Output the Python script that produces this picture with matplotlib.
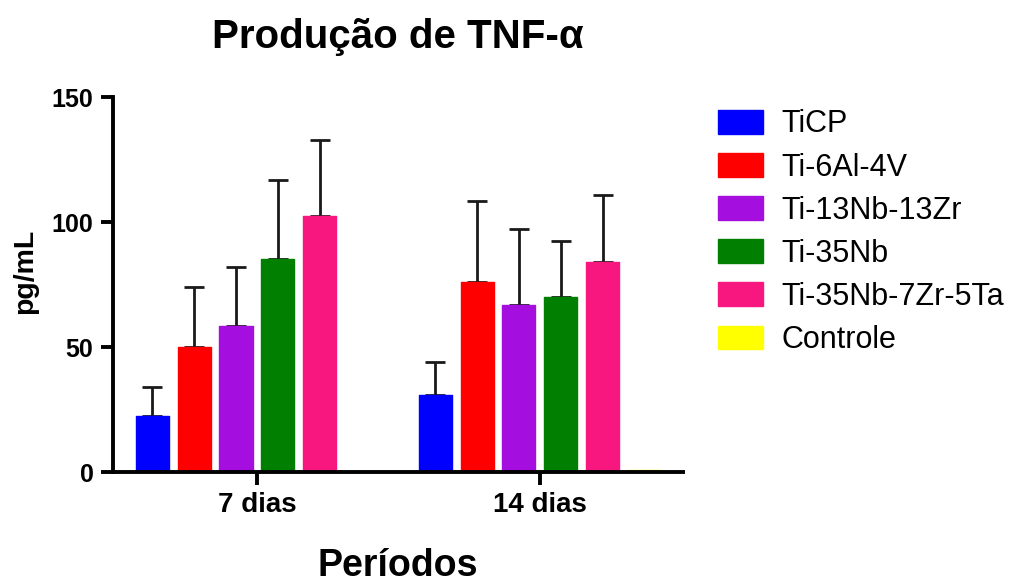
import numpy as np
import matplotlib
import matplotlib.pyplot as plt

matplotlib.use("agg")
plt.rcParams["font.family"] = ["Liberation Sans", "DejaVu Sans"]

# values
periods = ["7 dias", "14 dias"]
groups = ["TiCP", "Ti-6Al-4V", "Ti-13Nb-13Zr", "Ti-35Nb", "Ti-35Nb-7Zr-5Ta", "Controle"]
colors = ["#0000ff", "#ff0000", "#a40fe0", "#007f00", "#f8177f", "#ffff00"]
means = [
    [22.4, 30.8],
    [50.0, 76.0],
    [58.4, 66.8],
    [85.2, 70.0],
    [102.4, 84.0],
    [0.0, 1.0],
]
errors = [
    [11.6, 13.2],
    [24.0, 32.4],
    [23.6, 30.4],
    [31.8, 22.4],
    [30.4, 26.8],
    [0.0, 0.0],
]

fig = plt.figure(figsize=(10.13, 5.85), dpi=100)
ax = fig.add_axes([0.1115, 0.193, 0.5625, 0.641])

x = np.arange(len(periods))
step = 0.148
width = 0.117
for i, name in enumerate(groups):
    pos = x + (i - 2.5) * step
    err = np.array(errors[i])
    ax.bar(pos, means[i], width, color=colors[i], edgecolor=colors[i],
           linewidth=1, joinstyle="round", label=name, zorder=2)
    if err.max() > 0:
        ax.errorbar(pos, means[i], yerr=[np.zeros_like(err), err], fmt="none",
                    ecolor="#1a1a1a", elinewidth=2, capsize=7, capthick=2,
                    zorder=1)

ax.set_xlim(-0.509, 1.505)
ax.set_ylim(0, 150)
ax.set_yticks([0, 50, 100, 150])
ax.set_xticks(x)
ax.set_xticklabels(periods)
for lbl in ax.get_xticklabels():
    lbl.set_fontweight("bold")
    lbl.set_fontsize(20)
for lbl in ax.get_yticklabels():
    lbl.set_fontweight("bold")
    lbl.set_fontsize(18)

for side in ["top", "right"]:
    ax.spines[side].set_visible(False)
for side in ["left", "bottom"]:
    ax.spines[side].set_linewidth(2.8)
ax.tick_params(width=2.8, length=9, direction="out", pad=5)

ax.set_ylabel("pg/mL", fontsize=20.5, fontweight="bold")
ax.yaxis.set_label_coords(-0.132, 0.536)
ax.set_xlabel("Períodos", fontsize=27, fontweight="bold", labelpad=22)
ax.set_title("Produção de TNF-α", fontsize=29, fontweight="bold", pad=35)

fig.legend(loc="upper left", bbox_to_anchor=(0.709, 0.813), frameon=False,
           fontsize=22, handlelength=1.47, handleheight=0.82,
           labelspacing=0.43, handletextpad=0.6, borderpad=0,
           borderaxespad=0)

plt.savefig("out.png", dpi=100)
